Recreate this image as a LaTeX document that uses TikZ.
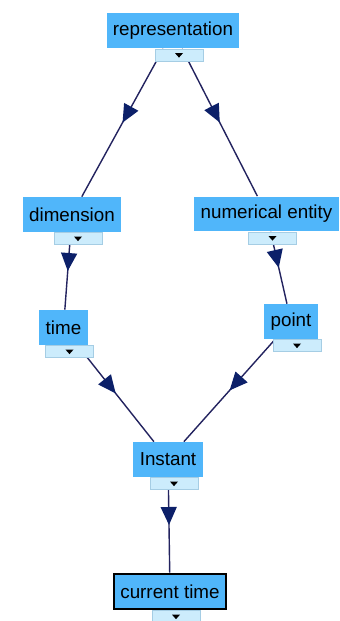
\documentclass[tikz,border=0pt]{standalone}
\usepackage{fontspec}
\setmainfont{Liberation Sans}
\usepackage{tikz}
\usetikzlibrary{arrows.meta, positioning, calc, backgrounds, decorations.markings}
\definecolor{boxblue}{RGB}{80,182,250}
\definecolor{tabblue}{RGB}{204,236,252}
\definecolor{tabedge}{RGB}{165,205,228}
\definecolor{linknavy}{RGB}{35,35,95}
\definecolor{headnavy}{RGB}{12,32,105}

\begin{document}
\begin{tikzpicture}[
  x=0.02cm, y=-0.02cm,
  concept/.style={rectangle, fill=boxblue, text=black, font=\fontsize{10.7}{13}\selectfont,
                  inner xsep=3.6pt, inner ysep=0pt, minimum height=0.7cm},
  current/.style={concept, draw=black, line width=1.6pt},
  tab/.style={rectangle, fill=tabblue, draw=tabedge, line width=0.3pt, inner sep=0pt,
              minimum width=0.96cm, minimum height=0.24cm, xshift=0.12cm},
  link/.style={draw=linknavy, line width=0.8pt, postaction={decorate},
               decoration={markings, mark=at position 0.5 with
                 {\arrow[headnavy]{Triangle[length=3.6mm, width=3.2mm]}}}}
]
\useasboundingbox (0,0) rectangle (340,621);

\node[concept] (rep)   at (173,31)    {representation};
\node[concept] (dim)   at (72,214.5)  {dimension};
\node[concept] (num)   at (266.5,214) {numerical entity};
\node[concept] (time)  at (63.5,327.5){time};
\node[concept] (point) at (291,321.5) {point};
\node[concept] (inst)  at (168,459.5) {Instant};
\node[current] (cur)   at (170,591.5) {current time};

\node[tab] (repT)   [below=0pt of rep]   {};
\node[tab] (dimT)   [below=0pt of dim]   {};
\node[tab] (numT)   [below=0pt of num]   {};
\node[tab] (timeT)  [below=0pt of time]  {};
\node[tab] (pointT) [below=0pt of point] {};
\node[tab] (instT)  [below=0pt of inst]  {};
\node[tab] (curT)   [below=0pt of cur]   {};

\foreach \t in {repT, dimT, numT, timeT, pointT, instT, curT}
  \fill[black] ($(\t.center)+(-4,-2)$) -- ++(8,0) -- ++(-4,4.5) -- cycle;

\begin{scope}[on background layer]
\draw[link] (rep) -- (dim);
\draw[link] (rep) -- (num);
\draw[link] (dim) -- (time);
\draw[link] (num) -- (point);
\draw[link] (time) -- (inst);
\draw[link] (point) -- (inst);
\draw[link] (inst) -- (cur);
\end{scope}
\end{tikzpicture}
\end{document}
